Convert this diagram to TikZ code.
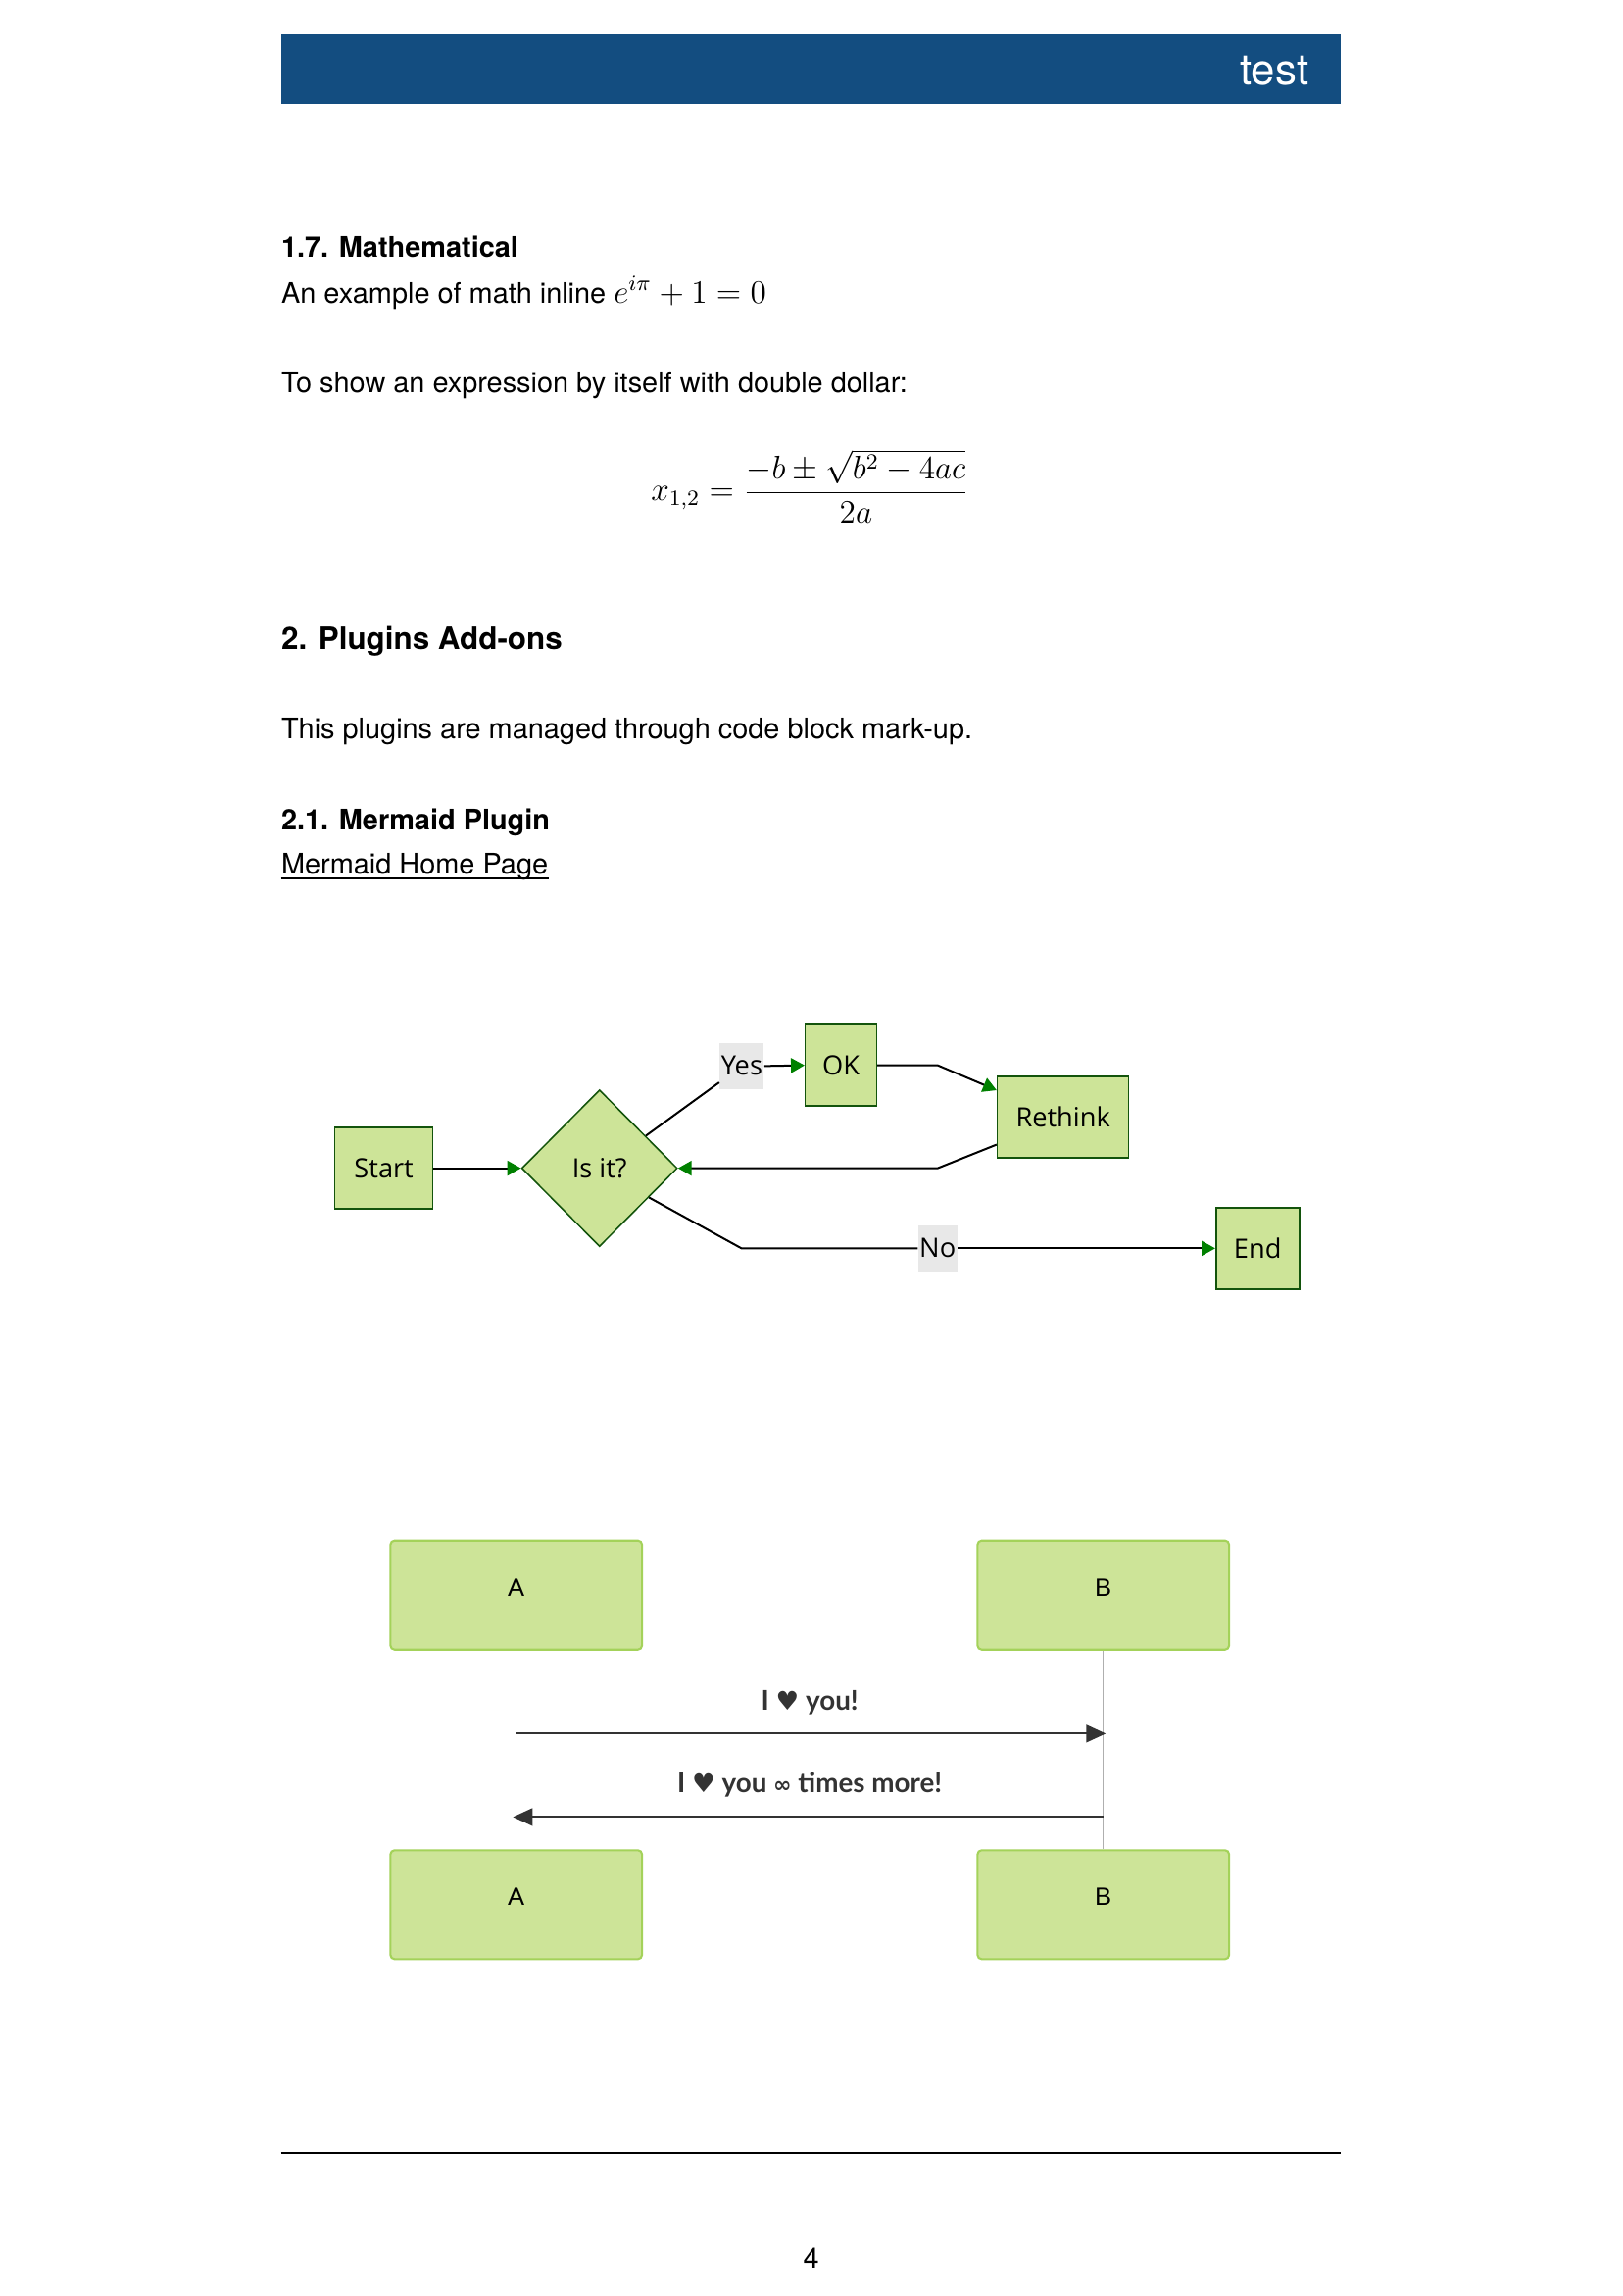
\documentclass[tikz,border=0pt]{standalone}
\usepackage[no-math]{fontspec}
\setmainfont{TeX Gyre Heros}
\newfontfamily\flowfont{Open Sans}
\newfontfamily\msgfont{Lato}
\newfontfamily\symfont{DejaVu Sans}
\newfontfamily\actorfont{Liberation Sans}
\usetikzlibrary{arrows.meta,shapes.geometric,calc}
\definecolor{hdrblue}{RGB}{19,77,128}
\definecolor{ffill}{HTML}{CDE498}
\definecolor{fstroke}{HTML}{13540C}
\definecolor{farrow}{RGB}{0,128,0}
\definecolor{lblbg}{RGB}{232,232,232}
\definecolor{aborder}{RGB}{164,210,90}
\definecolor{msgcol}{HTML}{333333}
\definecolor{lifecol}{RGB}{175,175,175}
\def\U{0.54pt}
\begin{document}
\begin{tikzpicture}[x=0.54pt,y=-0.54pt,
  bodytxt/.style={anchor=base west,inner sep=0pt,font=\fontsize{10.4}{12}\selectfont},
  headtxt/.style={anchor=base west,inner sep=0pt,font=\fontsize{10.4}{12}\selectfont\bfseries},
  bighead/.style={anchor=base west,inner sep=0pt,font=\fontsize{11.3}{13}\selectfont\bfseries},
  fnode/.style={draw=fstroke,fill=ffill,line width=0.55pt,inner sep=0pt,
    minimum height=55.5*\U,font=\flowfont\fontsize{9.8}{11}\selectfont},
  fdia/.style={diamond,draw=fstroke,fill=ffill,line width=0.55pt,inner sep=0pt,
    minimum width=105.8*\U,minimum height=106.6*\U,font=\flowfont\fontsize{9.8}{11}\selectfont},
  flabel/.style={fill=lblbg,inner xsep=0.5pt,inner ysep=0pt,minimum height=31.1*\U,
    font=\flowfont\fontsize{9.8}{11}\selectfont},
  fedge/.style={draw=black,line width=0.72pt},
  farr/.style={fedge,-{Triangle[length=5pt,width=5.4pt,color=farrow]}},
  actor/.style={draw=aborder,fill=ffill,line width=0.75pt,rounded corners=1.5pt,
    minimum width=171.1*\U,minimum height=74*\U,inner sep=0pt,
    font=\actorfont\fontsize{9.2}{11}\selectfont,text height=6.6pt,text depth=5.8pt},
  lifeline/.style={draw=lifecol,line width=0.4pt},
  msg/.style={draw=msgcol,line width=0.75pt,-{Triangle[length=7.2pt,width=6.4pt]}},
  msglbl/.style={anchor=base,inner sep=0pt,text=msgcol,font=\msgfont\bfseries\fontsize{10}{12}\selectfont}
]
\useasboundingbox (0,0) rectangle (1103.333,1561.333);
\fill[white] (0,0) rectangle (1103.333,1561.333);

% header
\fill[hdrblue] (191,23.3) rectangle (912.2,70.7);
\node[anchor=base east,inner sep=0pt,text=white,font=\fontsize{15.8}{18}\selectfont] (hdr) at (890.5,57.8) {test};

% text
\node[headtxt] (h17) at (191,174.8) {1.7. Mathematical};
\node[bodytxt] (inl) at (191,206) {An example of math inline {\fontsize{12}{15}\selectfont$e^{i\pi}+1=0$}};
\node[bodytxt] (dd) at (191,266.7) {To show an expression by itself with double dollar:};
\node[anchor=base west,inner sep=0pt,font=\fontsize{12}{15}\selectfont] (eq) at (442.5,340.6)
  {$\displaystyle x_{1,2}=\frac{-b\pm\sqrt{b^2-4ac}}{2a}$};
\node[bighead] (h2) at (191,441.5) {2. Plugins Add-ons};
\node[bodytxt] (pl) at (191,502) {This plugins are managed through code block mark-up.};
\node[headtxt] (h21) at (191,564) {2.1. Mermaid Plugin};
\node[bodytxt] (link) at (191,594) {Mermaid Home Page};
\draw[line width=0.5pt] ($(link.base west)+(0,3.2)$) -- ($(link.base east)+(0,3.2)$);

% flowchart
\node[fnode,minimum width=66.6*\U] (start) at (261.1,794.4) {Start};
\node[fdia] (isit) at (407.8,794.4) {Is it?};
\node[flabel] (yes) at (504.6,724.9) {Yes};
\node[fnode,minimum width=48.4*\U] (ok) at (572,724.4) {OK};
\node[fnode,minimum width=89.4*\U] (rethink) at (723.1,759.6) {Rethink};
\node[flabel] (no) at (637.8,848.9) {No};
\node[fnode,minimum width=56.7*\U] (end) at (855.5,848.9) {End};
\coordinate (k1) at (637.8,724.4);
\coordinate (k2) at (637.8,794.4);
\coordinate (k3) at (504.4,848.9);

\draw[farr] (start.east) -- (isit.west);
\draw[fedge] ($(isit.north)!0.59!(isit.east)$) -- (yes);
\draw[farr] (yes.east) -- (ok.west);
\draw[farr] (ok.east) -- (k1) -- ($(rethink.north west)+(0,10)$);
\draw[farr] ($(rethink.south west)+(0,-9.5)$) -- (k2) -- (isit.east);
\draw[fedge] ($(isit.east)!0.37!(isit.south)$) -- (k3) -- (no.west);
\draw[farr] (no.east) -- (end.west);

% sequence diagram
\node[actor] (atop) at (351.15,1084.8) {A};
\node[actor] (btop) at (750.5,1084.8) {B};
\node[actor] (abot) at (351.15,1295.2) {A};
\node[actor] (bbot) at (750.5,1295.2) {B};
\draw[lifeline] (atop.south) -- (abot.north);
\draw[lifeline] (btop.south) -- (bbot.north);
\coordinate (m1s) at (351.15,1178.9);
\coordinate (m1e) at (752.2,1178.9);
\coordinate (m2s) at (750.5,1235.6);
\coordinate (m2e) at (348.9,1235.6);
\draw[msg] (m1s) -- (m1e);
\draw[msg] (m2s) -- (m2e);
\node[msglbl] (t1) at (550.8,1162.9) {I {\symfont\fontsize{9.5}{10}\selectfont ♥} you!};
\node[msglbl] (t2) at (550.8,1219) {I {\symfont\fontsize{9.5}{10}\selectfont ♥} you {\symfont\bfseries\fontsize{8}{8}\selectfont ∞} times more!};

% footer
\draw[line width=0.8pt] (191,1464) -- (912.2,1464);
\node[anchor=base,inner sep=0pt,font=\fontsize{10.4}{12}\selectfont] (pg) at (551.7,1542) {4};
\end{tikzpicture}
\end{document}
